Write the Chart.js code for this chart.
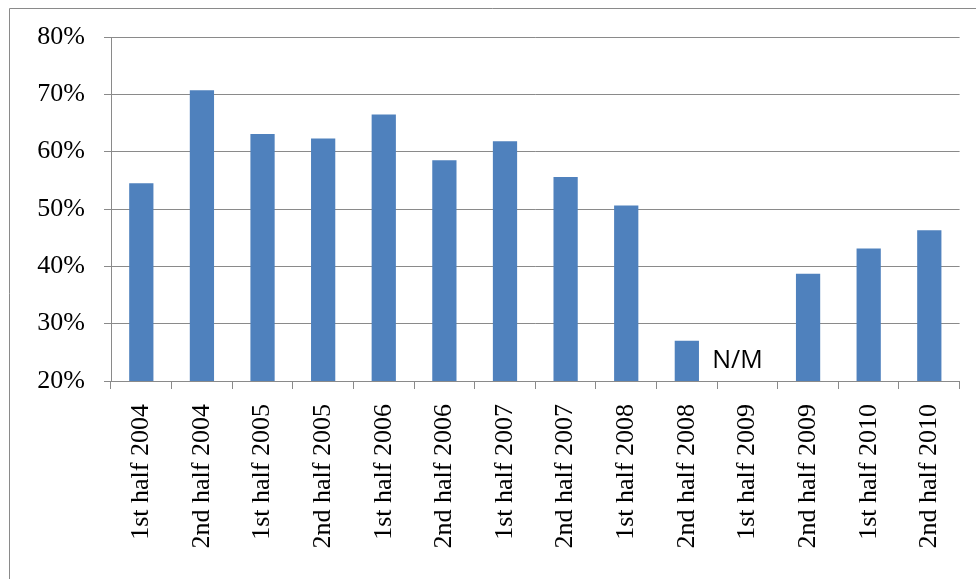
<!DOCTYPE html>
<html>
<head>
<meta charset="utf-8">
<script src="https://cdn.jsdelivr.net/npm/chart.js@4/dist/chart.umd.min.js"></script>
<style>
  html, body { margin: 0; padding: 0; background: #ffffff; }
  #wrap { position: relative; width: 976px; height: 579px; }
</style>
</head>
<body>
<div id="wrap"><canvas id="c" width="976" height="579"></canvas></div>
<script>
const categories = [
  "1st half 2004", "2nd half 2004", "1st half 2005", "2nd half 2005",
  "1st half 2006", "2nd half 2006", "1st half 2007", "2nd half 2007",
  "1st half 2008", "2nd half 2008", "1st half 2009", "2nd half 2009",
  "1st half 2010", "2nd half 2010"
];
const values = [54.5, 70.7, 63.1, 62.3, 66.5, 58.5, 61.8, 55.6, 50.6, 27.0, null, 38.7, 43.1, 46.3];
const yTicks = [20, 30, 40, 50, 60, 70, 80];
const noteText = "N/M";
const noteIndex = 10;

const frame = {
  id: 'frame',
  beforeDraw(chart) {
    const ctx = chart.ctx;
    ctx.save();
    ctx.strokeStyle = '#8a8a8a';
    ctx.lineWidth = 1;
    ctx.beginPath();
    ctx.moveTo(9.5, 579);
    ctx.lineTo(9.5, 8.5);
    ctx.lineTo(976, 8.5);
    ctx.stroke();
    ctx.restore();
  }
};

const note = {
  id: 'note',
  afterDatasetsDraw(chart) {
    const x = chart.scales.x, y = chart.scales.y;
    const ctx = chart.ctx;
    ctx.save();
    ctx.fillStyle = '#000000';
    ctx.font = '25px "Open Sans"';
    ctx.textAlign = 'center';
    ctx.textBaseline = 'alphabetic';
    ctx.fillText(noteText, x.getPixelForValue(noteIndex) - 10, y.getPixelForValue(22.3));
    ctx.restore();
  }
};

new Chart(document.getElementById('c'), {
  type: 'bar',
  data: {
    labels: categories,
    datasets: [{
      data: values,
      backgroundColor: '#4F81BD',
      borderWidth: 0,
      barPercentage: 0.4,
      categoryPercentage: 1.0
    }]
  },
  options: {
    responsive: false,
    animation: false,
    devicePixelRatio: 1,
    layout: { padding: { top: 37, right: 14, left: 0, bottom: 0 } },
    plugins: { legend: { display: false }, tooltip: { enabled: false } },
    scales: {
      x: {
        afterFit(s) { s.height = 198; },
        grid: {
          offset: true,
          drawOnChartArea: false,
          drawTicks: true,
          tickLength: 8,
          color: '#8a8a8a',
          lineWidth: 1
        },
        border: { color: '#8a8a8a', width: 1 },
        ticks: {
          minRotation: 90,
          maxRotation: 90,
          autoSkip: false,
          padding: 15,
          color: '#000000',
          font: { family: '"Liberation Serif", "Times New Roman", serif', size: 26 }
        }
      },
      y: {
        min: 20,
        max: 80,
        afterFit(s) { s.width = 111; },
        afterBuildTicks(s) { s.ticks = yTicks.map(v => ({ value: v })); },
        grid: {
          color: '#8a8a8a',
          lineWidth: 1,
          drawTicks: true,
          tickLength: 7
        },
        border: { color: '#8a8a8a', width: 1 },
        ticks: {
          padding: 19,
          color: '#000000',
          font: { family: '"Liberation Serif", "Times New Roman", serif', size: 26 },
          callback: v => v + '%'
        }
      }
    }
  },
  plugins: [frame, note]
});
</script>
</body>
</html>
